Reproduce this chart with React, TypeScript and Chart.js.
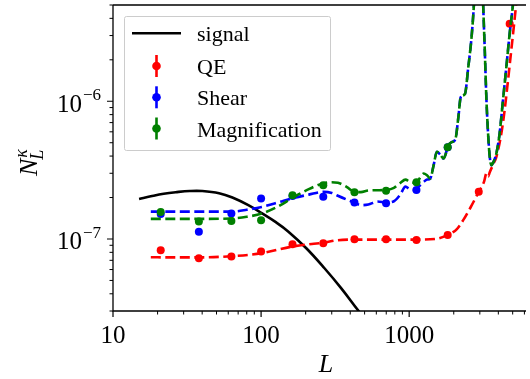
import React, { useEffect, useRef } from "react";
import { Chart, registerables } from "chart.js";
Chart.register(...registerables);

// ---- data ----
const binL = [21, 38, 63, 100, 163, 263, 427, 698, 1120, 1820, 2950, 4770];
const qePoints = [8.3e-8, 7.25e-8, 7.45e-8, 8.1e-8, 9.15e-8, 9.3e-8, 9.95e-8, 9.95e-8, 9.85e-8, 1.07e-7, 2.2e-7, 3.66e-6];
const shearPoints = [1.52e-7, 1.13e-7, 1.53e-7, 1.97e-7, 2.05e-7, 2.03e-7, 1.84e-7, 1.82e-7, 2.27e-7, 4.63e-7, null, null];
const magPoints = [1.57e-7, 1.34e-7, 1.35e-7, 1.37e-7, 2.08e-7, 2.46e-7, 2.18e-7, 2.24e-7, 2.58e-7, 4.63e-7, null, null];

const signalL = [15, 18, 22, 27, 33, 40, 52, 64, 82, 101, 125, 153, 202, 268, 347, 449, 520];
const signalN = [1.95e-7, 2.04e-7, 2.13e-7, 2.19e-7, 2.23e-7, 2.23e-7, 2.15e-7, 2.0e-7, 1.76e-7, 1.54e-7, 1.33e-7, 1.13e-7, 8.56e-8, 6.13e-8, 4.4e-8, 3.06e-8, 2.5e-8];

const qeCurveL = [18, 25, 38, 63, 100, 161, 220, 263, 330, 427, 600, 800, 1120, 1500, 1820, 2100, 2316, 2600, 2950, 3200, 3325, 3420, 3500, 3700, 3880, 4190, 4410, 4650, 4890, 5140, 5400];
const qeCurveN = [7.37e-8, 7.35e-8, 7.35e-8, 7.5e-8, 7.87e-8, 8.8e-8, 9.2e-8, 9.4e-8, 9.8e-8, 9.9e-8, 9.9e-8, 9.9e-8, 9.9e-8, 1.0e-7, 1.07e-7, 1.18e-7, 1.37e-7, 1.7e-7, 2.2e-7, 2.6e-7, 3.0e-7, 2.85e-7, 3.05e-7, 3.5e-7, 3.95e-7, 5.83e-7, 8.6e-7, 1.42e-6, 2.34e-6, 3.85e-6, 6.5e-6];

const theoryL = [18, 38, 63, 80, 101, 130, 161, 210, 265, 300, 330, 380, 427, 472, 530, 611, 700, 789, 870, 944, 1010, 1090, 1160, 1253, 1320, 1388, 1460, 1538, 1620, 1706, 1843, 1940, 2050, 2150, 2228, 2380, 2507, 2638, 2735, 2850, 2950, 3050, 3160, 3240, 3325, 3410, 3500, 3590, 3700, 3880, 4080, 4300, 4530, 4770, 5010, 5300];
const shearCurveN = [1.58e-7, 1.58e-7, 1.58e-7, 1.63e-7, 1.71e-7, 1.84e-7, 1.97e-7, 2.1e-7, 2.2e-7, 2.16e-7, 2.06e-7, 1.93e-7, 1.84e-7, 1.76e-7, 1.78e-7, 1.87e-7, 1.84e-7, 1.88e-7, 2.1e-7, 2.4e-7, 2.3e-7, 2.27e-7, 2.4e-7, 2.6e-7, 2.7e-7, 2.75e-7, 3.4e-7, 4.3e-7, 4.1e-7, 3.84e-7, 4.8e-7, 5.05e-7, 5.3e-7, 7.7e-7, 1.07e-6, 1.13e-6, 1.77e-6, 2.92e-6, 5e-6, 1.2e-5, 3e-5, 1.5e-5, 5e-6, 2.34e-6, 1.02e-6, 5.83e-7, 3.95e-7, 3.44e-7, 3.6e-7, 4.18e-7, 5.83e-7, 1.02e-6, 1.77e-6, 3.1e-6, 4.9e-6, 9e-6];
const magCurveN = [1.40e-7, 1.40e-7, 1.41e-7, 1.45e-7, 1.53e-7, 1.72e-7, 1.97e-7, 2.3e-7, 2.54e-7, 2.58e-7, 2.56e-7, 2.38e-7, 2.2e-7, 2.19e-7, 2.25e-7, 2.26e-7, 2.27e-7, 2.35e-7, 2.55e-7, 2.7e-7, 2.6e-7, 2.56e-7, 2.7e-7, 2.99e-7, 2.9e-7, 2.75e-7, 3.4e-7, 4.3e-7, 4.1e-7, 3.84e-7, 4.8e-7, 5.05e-7, 5.3e-7, 7.7e-7, 1.07e-6, 1.13e-6, 1.77e-6, 2.92e-6, 5e-6, 1.2e-5, 3e-5, 1.5e-5, 5e-6, 2.34e-6, 1.02e-6, 5.83e-7, 3.95e-7, 3.44e-7, 3.6e-7, 4.18e-7, 5.83e-7, 1.02e-6, 1.77e-6, 3.1e-6, 4.9e-6, 9e-6];

const xMajorTicks = [10, 100, 1000];
const xTickLabels = ["10", "100", "1000"];
const yMajorTicks = [1e-7, 1e-6];
const yTickExponents = ["\u22127", "\u22126"];
const legendLabels = ["signal", "QE", "Shear", "Magnification"];

const X_MIN = 10, X_MAX = 6150, Y_MIN = 3e-8, Y_MAX = 5e-6;
const RED = "#ff0000", BLUE = "#0000ff", GREEN = "#008000";
const SERIF = '"Liberation Serif", "Times New Roman", serif';

const pts = (xs: number[], ys: (number | null)[]) =>
  xs.map((x, i) => ({ x, y: ys[i] })).filter((p) => p.y !== null);

function minorTicks(min: number, max: number) {
  const out: number[] = [];
  for (let e = Math.floor(Math.log10(min)); e <= Math.ceil(Math.log10(max)); e++) {
    for (let m = 2; m <= 9; m++) {
      const v = m * Math.pow(10, e);
      if (v >= min * 0.999 && v <= max * 1.001) out.push(v);
    }
  }
  return out;
}

const mplPlugin = {
  id: "mplDecor",
  afterDraw(chart: any) {
    const ctx = chart.ctx as CanvasRenderingContext2D;
    const xs = chart.scales.x, ys = chart.scales.y;
    const { left, right, top, bottom } = chart.chartArea;
    ctx.save();
    ctx.strokeStyle = "#000";
    ctx.lineWidth = 1.3;
    ctx.beginPath();
    ctx.moveTo(left, top); ctx.lineTo(right, top);
    ctx.moveTo(left, top); ctx.lineTo(left, bottom); ctx.lineTo(right, bottom);
    ctx.stroke();

    // ticks
    ctx.lineWidth = 1.2;
    ctx.beginPath();
    xMajorTicks.forEach((v) => { const p = xs.getPixelForValue(v); ctx.moveTo(p, bottom); ctx.lineTo(p, bottom + 6); });
    yMajorTicks.forEach((v) => { const p = ys.getPixelForValue(v); ctx.moveTo(left, p); ctx.lineTo(left - 6, p); });
    ctx.stroke();
    ctx.lineWidth = 1;
    ctx.beginPath();
    minorTicks(X_MIN, X_MAX).forEach((v) => { const p = xs.getPixelForValue(v); ctx.moveTo(p, bottom); ctx.lineTo(p, bottom + 3.5); });
    minorTicks(Y_MIN, Y_MAX).forEach((v) => { const p = ys.getPixelForValue(v); ctx.moveTo(left, p); ctx.lineTo(left - 3.5, p); });
    ctx.stroke();

    // tick labels
    ctx.fillStyle = "#000";
    ctx.textBaseline = "alphabetic";
    ctx.font = `25px ${SERIF}`;
    ctx.textAlign = "center";
    xMajorTicks.forEach((v, i) => {
      const p = xs.getPixelForValue(v);
      ctx.fillText(xTickLabels[i], p, 343);
    });
    yMajorTicks.forEach((v, i) => {
      const p = ys.getPixelForValue(v);
      ctx.font = `17px ${SERIF}`;
      const w2 = ctx.measureText(yTickExponents[i]).width;
      ctx.font = `25px ${SERIF}`;
      const w1 = ctx.measureText("10").width;
      const x0 = left - 12 - w2 - w1 - 1;
      ctx.textAlign = "left";
      ctx.fillText("10", x0, p + 10.5);
      ctx.font = `17px ${SERIF}`;
      ctx.fillText(yTickExponents[i], x0 + w1 + 1, p - 1);
    });

    // axis labels
    ctx.font = `italic 26px ${SERIF}`;
    ctx.textAlign = "center";
    ctx.fillText("L", 326, 371.5);

    ctx.save();
    ctx.translate(37, 176);
    ctx.rotate(-Math.PI / 2);
    ctx.textAlign = "left";
    ctx.font = `italic 26px ${SERIF}`;
    ctx.fillText("N", 0, 0);
    const wN = ctx.measureText("N").width;
    ctx.font = `italic 18px ${SERIF}`;
    ctx.fillText("\u03BA", wN + 1, -10);
    ctx.fillText("L", wN - 1, 6);
    ctx.restore();

    // legend
    const bx = 124.5, by = 16.5, bw = 206, bh = 134;
    ctx.fillStyle = "rgba(255,255,255,0.8)";
    ctx.strokeStyle = "#cccccc";
    ctx.lineWidth = 1;
    ctx.beginPath();
    (ctx as any).roundRect(bx, by, bw, bh, 2);
    ctx.fill();
    ctx.stroke();

    const rowY = [33.3, 66, 97.3, 128.5];
    const textX = 197;
    ctx.strokeStyle = "#000";
    ctx.lineWidth = 2.6;
    ctx.beginPath();
    ctx.moveTo(132, rowY[0]); ctx.lineTo(181, rowY[0]);
    ctx.stroke();
    const cols = [RED, BLUE, GREEN];
    for (let i = 0; i < 3; i++) {
      const cy = rowY[i + 1];
      ctx.strokeStyle = cols[i];
      ctx.fillStyle = cols[i];
      ctx.lineWidth = 2.6;
      ctx.beginPath();
      ctx.moveTo(156.5, cy - 11); ctx.lineTo(156.5, cy + 11);
      ctx.stroke();
      ctx.beginPath();
      ctx.arc(156.5, cy, 4.3, 0, Math.PI * 2);
      ctx.fill();
    }
    ctx.fillStyle = "#000";
    ctx.font = `22px ${SERIF}`;
    ctx.textAlign = "left";
    ctx.textBaseline = "alphabetic";
    legendLabels.forEach((t, i) => ctx.fillText(t, textX, rowY[i] + 8));
    ctx.restore();
  },
};

export default function App() {
  const ref = useRef<HTMLCanvasElement | null>(null);
  useEffect(() => {
    if (!ref.current) return;
    const dash = [10, 4.5];
    const curve = (data: any, color: string, order: number) => ({
      data, borderColor: color, backgroundColor: color, borderWidth: 2.6, borderDash: dash,
      pointRadius: 0, fill: false, cubicInterpolationMode: "monotone", order, clip: 0,
    });
    const points = (data: any, color: string, order: number) => ({
      data, borderColor: color, backgroundColor: color, showLine: false, pointRadius: 4,
      pointBorderWidth: 0, pointHoverRadius: 4, order, clip: 0,
    });
    const chart = new Chart(ref.current, {
      type: "line",
      data: {
        datasets: [
          { data: pts(signalL, signalN), borderColor: "#000", borderWidth: 2.6, pointRadius: 0, fill: false,
            tension: 0.4, order: 10, clip: 0 } as any,
          curve(pts(qeCurveL, qeCurveN), RED, 9),
          points(pts(binL, qePoints), RED, 8),
          curve(pts(theoryL, shearCurveN), BLUE, 7),
          points(pts(binL, shearPoints), BLUE, 6),
          curve(pts(theoryL, magCurveN), GREEN, 5),
          points(pts(binL, magPoints), GREEN, 4),
        ] as any,
      },
      options: {
        responsive: false,
        animation: false,
        devicePixelRatio: 1,
        layout: { padding: { left: 113, top: 5, right: 0, bottom: 68 } },
        scales: {
          x: { type: "logarithmic", min: X_MIN, max: X_MAX, display: false },
          y: { type: "logarithmic", min: Y_MIN, max: Y_MAX, display: false },
        },
        plugins: { legend: { display: false }, tooltip: { enabled: false } },
        events: [],
      } as any,
      plugins: [mplPlugin],
    });
    return () => chart.destroy();
  }, []);
  return (
    <div style={{ position: "absolute", left: 0, top: 0, width: 530, height: 379, background: "#fff" }}>
      <canvas ref={ref} width={530} height={379} style={{ width: 530, height: 379, display: "block" }} />
    </div>
  );
}
